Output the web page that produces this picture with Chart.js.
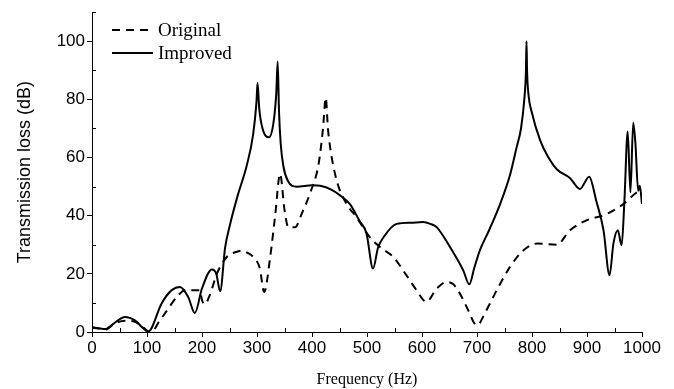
<!DOCTYPE html>
<html>
<head>
<meta charset="utf-8">
<script src="https://cdn.jsdelivr.net/npm/chart.js@4"></script>
<style>
  html, body { margin: 0; padding: 0; background: #fff; }
  #wrap { width: 674px; height: 389px; }
</style>
</head>
<body>
<div id="wrap"><canvas id="tlChart" width="674" height="389"></canvas></div>
<script>
// 読み取った値 (Hz, dB)
const originalHz = [0, 12, 24, 42, 60, 78, 92, 100, 104, 112, 120, 133, 154, 169, 196, 200, 205, 214, 227, 245, 262, 272, 285, 293, 305, 313, 324, 333, 342, 350, 357, 369, 382, 396, 412, 420, 425, 429, 433, 445, 463, 481, 505, 525, 548, 570, 590, 608, 627, 645, 657, 669, 684, 699, 704, 711, 736, 760, 784, 809, 845, 869, 899, 936, 966, 990, 1000];
const originalDb = [1.5, 1.2, 0.8, 3, 3.9, 3.5, 1.8, 0.5, 0, 0.5, 3, 6.5, 12, 14.4, 14.4, 11, 9.5, 12.6, 20, 25.8, 27.5, 28, 27, 25.8, 22, 13.8, 25.8, 40, 54.4, 42, 36, 36, 41, 47.5, 57.8, 70, 80.6, 70, 63.5, 52, 44, 39.5, 32.6, 29, 25.8, 20, 14.4, 10.4, 15, 17.2, 16.4, 13.2, 7.5, 2.4, 2.8, 5.2, 14.4, 22.4, 28, 30.4, 30, 35, 38.4, 40.6, 44, 48, 49];

const improvedHz = [0, 12, 24, 40, 60, 78, 92, 102, 127, 145, 160, 175, 187, 200, 218, 226, 233, 242, 251, 265, 281, 293, 299, 301, 304, 310, 322, 330, 335, 337.6, 340, 343, 348, 356, 372, 400, 415, 435, 451, 469, 487, 499, 511, 520, 530, 554, 580, 602, 615, 627, 651, 675, 686, 695, 705, 722, 742, 760, 772, 780, 786, 789, 790, 791, 794, 799, 815, 830, 845, 869, 887, 904, 917, 930, 941, 948, 956, 963, 968, 974, 979, 984, 988, 993, 996, 1000];
const improvedDb = [1.7, 1.3, 1.0, 3, 5.2, 4, 1.5, 0.1, 10, 14.4, 15.5, 12, 6.5, 15, 21.5, 20, 14, 29, 37, 47, 57, 68, 79, 85.7, 77, 70, 67, 72, 82, 93, 76, 65, 57, 52, 50, 50.5, 50.3, 49, 47, 44, 38, 34, 21.8, 29, 32.6, 37.2, 37.6, 37.8, 37.2, 36, 29.2, 21.2, 16.4, 22, 28, 35, 44, 54, 63.5, 70, 80, 90, 100, 90, 81, 76, 65.8, 60, 56, 53, 49.2, 53.4, 45, 35, 19.5, 30.4, 35, 29.8, 45, 69, 48, 72, 65, 48.6, 50.3, 44];

const xTicks = [0, 100, 200, 300, 400, 500, 600, 700, 800, 900, 1000];
const yTicks = [0, 20, 40, 60, 80, 100];
const seriesNames = ['Original', 'Improved'];

const toPoints = (xs, ys) => xs.map((x, i) => ({ x: x, y: ys[i] }));

const sansFont = "'Liberation Sans', Arial, sans-serif";
const serifFont = "'Liberation Serif', 'Times New Roman', serif";

// 凡例と副目盛り（内向き）を手描き
const extrasPlugin = {
    id: 'extras',
    afterDraw(chart) {
        const ctx = chart.ctx;
        const xs = chart.scales.x, ys = chart.scales.y;
        const area = chart.chartArea;
        ctx.save();
        ctx.strokeStyle = '#000';
        ctx.lineWidth = 1;
        // 副目盛り
        ctx.beginPath();
        for (let v = 50; v < 1000; v += 100) {
            const px = Math.round(xs.getPixelForValue(v)) + 0.5;
            ctx.moveTo(px, area.bottom);
            ctx.lineTo(px, area.bottom - 4);
        }
        for (let v = 10; v <= 110; v += 20) {
            const py = Math.round(ys.getPixelForValue(v)) + 0.5;
            ctx.moveTo(area.left, py);
            ctx.lineTo(area.left + 4, py);
        }
        ctx.stroke();
        // 凡例
        const lx0 = 112, lx1 = 153;
        const rows = [{ y: 30, dash: [8, 6] }, { y: 53, dash: [] }];
        ctx.lineWidth = 2;
        ctx.font = '19px ' + serifFont;
        ctx.fillStyle = '#000';
        ctx.textBaseline = 'middle';
        rows.forEach((r, i) => {
            ctx.setLineDash(r.dash);
            ctx.beginPath();
            ctx.moveTo(lx0, r.y);
            ctx.lineTo(lx1, r.y);
            ctx.stroke();
            ctx.fillText(seriesNames[i], 158, r.y + 1);
        });
        ctx.restore();
    }
};

const ctx = document.getElementById('tlChart').getContext('2d');
const chart = new Chart(ctx, {
    type: 'line',
    data: {
        datasets: [{
            label: seriesNames[0],
            data: toPoints(originalHz, originalDb),
            borderColor: '#000',
            borderWidth: 2,
            borderDash: [8, 6],
            pointRadius: 0,
            cubicInterpolationMode: 'monotone',
            fill: false
        }, {
            label: seriesNames[1],
            data: toPoints(improvedHz, improvedDb),
            borderColor: '#000',
            borderWidth: 2,
            pointRadius: 0,
            cubicInterpolationMode: 'monotone',
            fill: false
        }]
    },
    options: {
        responsive: false,
        animation: false,
        layout: { padding: { top: 11, right: 32, left: 14, bottom: 0 } },
        plugins: {
            legend: { display: false },
            tooltip: { enabled: false }
        },
        scales: {
            x: {
                type: 'linear',
                min: 0,
                max: 1000,
                afterBuildTicks: (scale) => { scale.ticks = xTicks.map(v => ({ value: v })); },
                afterFit: (scale) => { scale.height = 57; },
                grid: { drawOnChartArea: false, tickLength: 5, color: '#000' },
                border: { color: '#000', width: 1 },
                ticks: {
                    color: '#000',
                    font: { family: sansFont, size: 17 },
                    padding: 1,
                    maxRotation: 0,
                    callback: (v) => String(v)
                },
                title: {
                    display: true,
                    text: 'Frequency (Hz)',
                    color: '#000',
                    font: { family: serifFont, size: 16 },
                    padding: { top: 2, bottom: 0 }
                }
            },
            y: {
                min: 0,
                max: 110,
                afterBuildTicks: (scale) => { scale.ticks = yTicks.map(v => ({ value: v })); },
                afterFit: (scale) => { scale.width = 78; },
                grid: { drawOnChartArea: false, tickLength: 5, color: '#000' },
                border: { color: '#000', width: 1 },
                ticks: { color: '#000', font: { family: sansFont, size: 17 }, padding: 2 },
                title: {
                    display: true,
                    text: 'Transmission loss (dB)',
                    color: '#000',
                    font: { family: sansFont, size: 18 },
                    padding: { top: 0, bottom: 4 }
                }
            }
        }
    },
    plugins: [extrasPlugin]
});
</script>
</body>
</html>
